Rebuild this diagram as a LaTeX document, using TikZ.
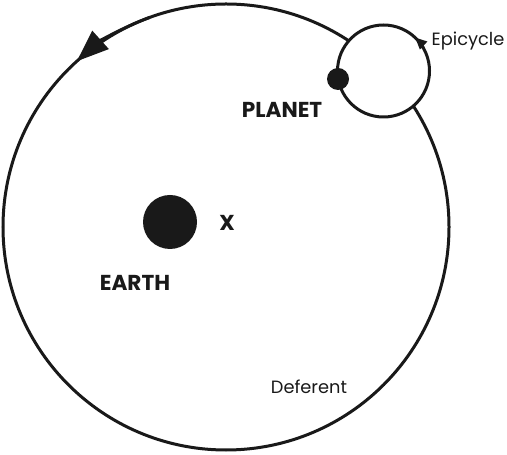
\documentclass[tikz,border=0pt]{standalone}
\usepackage{fontspec}
\setmainfont{Poppins}
\usetikzlibrary{arrows.meta}
\tikzset{
	orbit/.style={line width=1.5pt,draw=black!90},
	body/.style={circle,fill=black!90,inner sep=0pt},
	tag/.style={font=\fontsize{10.8}{12}\selectfont\bfseries,text=black!90},
	note/.style={font=\fontsize{8.9}{10}\selectfont,text=black!90},
}
\begin{document}
\begin{tikzpicture}[x=0.5pt,y=0.5pt]
		\useasboundingbox (0,0) rectangle (507,454);
		\coordinate (d0) at (226,227);
		\coordinate (e0) at (383.5,383);

		\draw[orbit] (d0) circle (111.5pt);
		\draw[orbit,-{Triangle[length=16pt,width=12pt]}] (d0) ++(110:111.5pt) arc[start angle=110,end angle=132,radius=111.5pt];
		\draw[orbit,fill=white] (e0) circle (23pt);
		\draw[orbit,-{Triangle[length=6pt,width=5pt]}] (e0) ++(30:23pt) arc[start angle=30,end angle=47,radius=23pt];

		\node[body,minimum size=27pt] (earth) at (170,232) {};
		\node[body,minimum size=11pt] (planet) at (338,375) {};

		\node[tag] (x) at (227,231) {X};
		\node[tag] (earthlbl) at (135,171) {EARTH};
		\node[tag] (planetlbl) at (282,344) {PLANET};
		\node[note] (epilbl) at (468,413) {Epicycle};
		\node[note] (deflbl) at (309,67) {Deferent};
\end{tikzpicture}
\end{document}
